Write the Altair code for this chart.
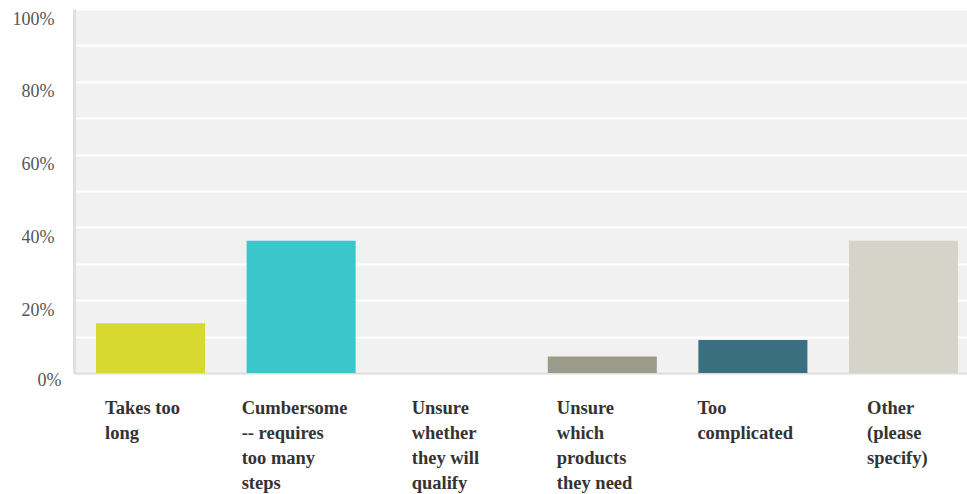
import altair as alt
import pandas as pd

categories = [
    "Takes too long",
    "Cumbersome -- requires too many steps",
    "Unsure whether they will qualify",
    "Unsure which products they need",
    "Too complicated",
    "Other (please specify)",
]
wrapped = [
    "Takes too|long",
    "Cumbersome|-- requires|too many|steps",
    "Unsure|whether|they will|qualify",
    "Unsure|which|products|they need",
    "Too|complicated",
    "Other|(please|specify)",
]
shares = [3 / 22, 8 / 22, 0.0, 1 / 22, 2 / 22, 8 / 22]
colors = ["#d7d92f", "#3bc6cb", "#6f8f9a", "#9b9b8b", "#3a6f7f", "#d4d4c9"]
label_shift = [-45.5, -59.5, -40, -45.5, -55.5, -36.5]

df = pd.DataFrame({"category": categories, "share": shares})

wrap_map = "{" + ",".join("'%s': '%s'" % (c, w) for c, w in zip(categories, wrapped)) + "}"
shift_conds = [
    {"test": "datum.value == '%s'" % c, "value": s} for c, s in zip(categories, label_shift)
]

font = "Liberation Serif"

chart = (
    alt.Chart(df)
    .mark_bar()
    .encode(
        x=alt.X(
            "category:N",
            sort=categories,
            scale=alt.Scale(paddingInner=0.276, paddingOuter=0.103, align=0.71),
            axis=alt.Axis(
                title=None,
                labelAngle=0,
                labelExpr="split(" + wrap_map + "[datum.value], '|')",
                labelAlign="left",
                labelBaseline="top",
                labelOffset={"condition": shift_conds, "value": 0},
                labelFont=font,
                labelFontSize=18.5,
                labelFontWeight="bold",
                labelColor="#333333",
                labelLineHeight=25,
                labelPadding=25,
                ticks=False,
                domain=True,
                domainColor="#dcdcdc",
                domainWidth=2,
                grid=False,
                labelLimit=300,
            ),
        ),
        y=alt.Y(
            "share:Q",
            scale=alt.Scale(domain=[0, 1], nice=False),
            axis=alt.Axis(
                title=None,
                values=[i / 10 for i in range(11)],
                labelExpr="round(datum.value*10) % 2 == 0 ? format(datum.value, '.0%') : ''",
                labelFont=font,
                labelFontSize=18,
                labelColor="#555555",
                labelAlign="right",
                labelBaseline="middle",
                labelPadding={"condition": {"test": "datum.value == 0", "value": 13}, "value": 20},
                labelOffset={"condition": {"test": "datum.value == 0", "value": 7}, "value": 10},
                ticks=False,
                domain=True,
                domainColor="#e0e0e0",
                domainWidth=3,
                grid=True,
                gridColor="#ffffff",
                gridWidth=2,
                labelFlush=False,
            ),
        ),
        color=alt.Color(
            "category:N",
            sort=categories,
            scale=alt.Scale(domain=categories, range=colors),
            legend=None,
        ),
    )
    .properties(
        width=893,
        height=364,
        autosize=alt.AutoSizeParams(type="none"),
        padding={"left": 74, "top": 9, "right": 0, "bottom": 121},
        view=alt.ViewBackground(fill="#f1f1f1", strokeWidth=0),
    )
    .configure(background="#ffffff")
)

chart.save("out.html", embed_options={"renderer": "svg", "actions": False})
